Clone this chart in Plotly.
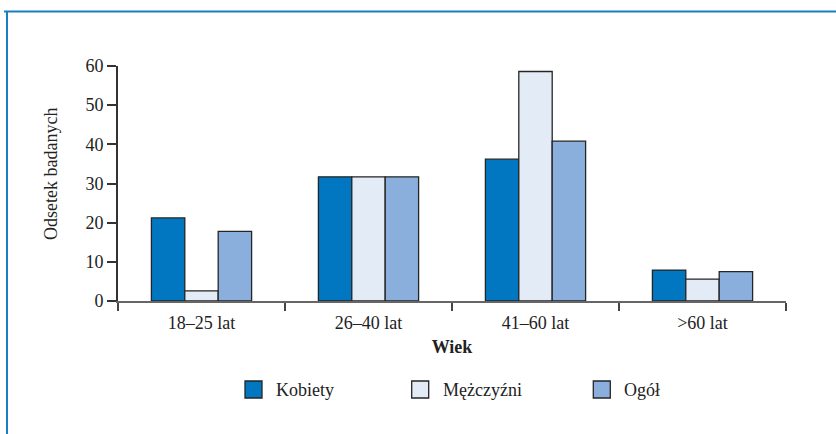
import plotly.graph_objects as go

categories = ["18–25 lat", "26–40 lat", "41–60 lat", ">60 lat"]
series_names = ["Kobiety", "Mężczyźni", "Ogół"]
kobiety = [21.2, 31.7, 36.2, 7.9]
mezczyzni = [2.6, 31.7, 58.6, 5.6]
ogol = [17.8, 31.7, 40.8, 7.5]
colors = ["#0077C0", "#E3EBF7", "#8BAFDC"]
y_ticks = [0, 10, 20, 30, 40, 50, 60]

W, H = 836, 434
L, R, T, B = 118, 50, 66, 133
pw, ph = W - L - R, H - T - B

def px(x):
    return (x - L) / pw

def py(y):
    return (H - B - y) / ph

FONT = "Liberation Serif, Times New Roman, serif"

fig = go.Figure()
for name, vals, col in zip(series_names, [kobiety, mezczyzni, ogol], colors):
    fig.add_trace(go.Bar(
        x=categories, y=vals, name=name,
        marker=dict(color=col, line=dict(color="#252525", width=1.3)),
        showlegend=False,
    ))

shapes = [
    dict(type="line", xref="paper", yref="paper", x0=px(4), x1=px(840),
         y0=py(11.5), y1=py(11.5), line=dict(color="#1A7DC4", width=2)),
    dict(type="line", xref="paper", yref="paper", x0=px(7), x1=px(7),
         y0=py(11), y1=py(440), line=dict(color="#1A7DC4", width=2)),
]
annotations = [
    dict(text="Odsetek badanych", xref="paper", yref="paper", x=px(51), y=py(174),
         textangle=-90, showarrow=False, font=dict(family=FONT, size=18, color="#222"),
         xanchor="center", yanchor="middle"),
]

# custom legend
leg_sq_x = [245, 411.7, 593.3]
leg_y = 389.5
for name, col, sx in zip(series_names, colors, leg_sq_x):
    shapes.append(dict(type="rect", xref="paper", yref="paper",
                       x0=px(sx), x1=px(sx + 17), y0=py(leg_y - 8.5), y1=py(leg_y + 8.5),
                       fillcolor=col, line=dict(color="#252525", width=1.3)))
    annotations.append(dict(text=name, xref="paper", yref="paper",
                            x=px(sx + 29), y=py(leg_y), showarrow=False,
                            xanchor="left", yanchor="middle",
                            font=dict(family=FONT, size=18, color="#222")))

fig.update_layout(
    width=W, height=H,
    margin=dict(l=L, r=R, t=T, b=B),
    paper_bgcolor="white", plot_bgcolor="white",
    barmode="group", bargap=0.4, bargroupgap=0,
    font=dict(family=FONT, size=18, color="#222"),
    shapes=shapes, annotations=annotations,
    xaxis=dict(
        type="category", tickson="boundaries", ticks="outside", ticklen=8,
        tickwidth=1.5, tickcolor="#444", showline=True, linecolor="#666", linewidth=1.6,
        showgrid=False, zeroline=False, ticklabelstandoff=5,
        title=dict(text="<b>Wiek</b>", standoff=8, font=dict(size=18, family=FONT)),
        tickfont=dict(size=18, family=FONT, color="#222"),
    ),
    yaxis=dict(
        range=[0, 60], tickvals=y_ticks, ticks="outside", ticklen=9, tickwidth=1.5,
        tickcolor="#333", showline=True, linecolor="#333", linewidth=1.6,
        showgrid=False, zeroline=False,
        tickfont=dict(size=18, family=FONT, color="#222"),
    ),
)

fig.write_html("out.html", config={"displayModeBar": False},
               post_script="document.body.style.margin='0';")
